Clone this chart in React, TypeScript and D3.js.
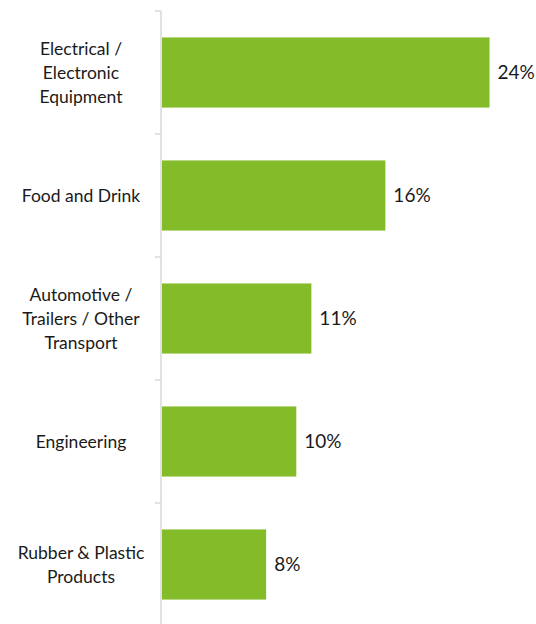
import React from 'react';
import * as d3 from 'd3';

// categories (each label split into its lines) and shares in %
const categories = [
  'Electrical / Electronic Equipment',
  'Food and Drink',
  'Automotive / Trailers / Other Transport',
  'Engineering',
  'Rubber & Plastic Products'
];
const labelLines = [
  ['Electrical /', 'Electronic', 'Equipment'],
  ['Food and Drink'],
  ['Automotive /', 'Trailers / Other', 'Transport'],
  ['Engineering'],
  ['Rubber & Plastic', 'Products']
];
const values = [23.9, 16.3, 10.9, 9.8, 7.6];
const valueLabels = ['24%', '16%', '11%', '10%', '8%'];

const W = 536;
const H = 624;
const FONT = 'Lato, "Open Sans", sans-serif';

export default function App() {
  const x = d3.scaleLinear().domain([0, 27]).range([162, 532]);
  const y = d3.scaleBand<string>()
    .domain(categories)
    .range([11, 626])
    .paddingInner(0.43)
    .paddingOuter(0.215);

  const step = y.step();
  const boundaries = d3.range(categories.length + 1).map(i => 11 + i * step);

  return (
    <svg width={W} height={H} style={{ position: 'absolute', left: 0, top: 0 }}>
      <rect width={W} height={H} fill="#fff" />
      {/* bars */}
      {categories.map((c, i) => (
        <rect
          key={c}
          x={x(0)}
          y={y(c)}
          width={x(values[i]) - x(0)}
          height={y.bandwidth()}
          fill="#84bb29"
        />
      ))}
      {/* axis */}
      <line x1={161} x2={161} y1={11} y2={626} stroke="#d9d9d9" strokeWidth={1.5} />
      {boundaries.map((b, i) => (
        <line key={i} x1={155} x2={161} y1={b} y2={b} stroke="#d9d9d9" strokeWidth={1.5} />
      ))}
      {/* category labels */}
      {categories.map((c, i) => {
        const lines = labelLines[i];
        const cy = (y(c) || 0) + y.bandwidth() / 2;
        const lh = 24;
        const y0 = cy - ((lines.length - 1) * lh) / 2;
        return (
          <text key={c} x={81} textAnchor="middle" fontFamily={FONT} fontSize={17.5} fill="#1a1a1a">
            {lines.map((l, j) => (
              <tspan key={j} x={81} y={y0 + j * lh} dy="0.35em">{l}</tspan>
            ))}
          </text>
        );
      })}
      {/* value labels */}
      {categories.map((c, i) => (
        <text
          key={c}
          x={x(values[i]) + 8}
          y={(y(c) || 0) + y.bandwidth() / 2}
          dy="0.35em"
          fontFamily={FONT}
          fontSize={19}
          fill="#1a1a1a"
        >
          {valueLabels[i]}
        </text>
      ))}
    </svg>
  );
}
